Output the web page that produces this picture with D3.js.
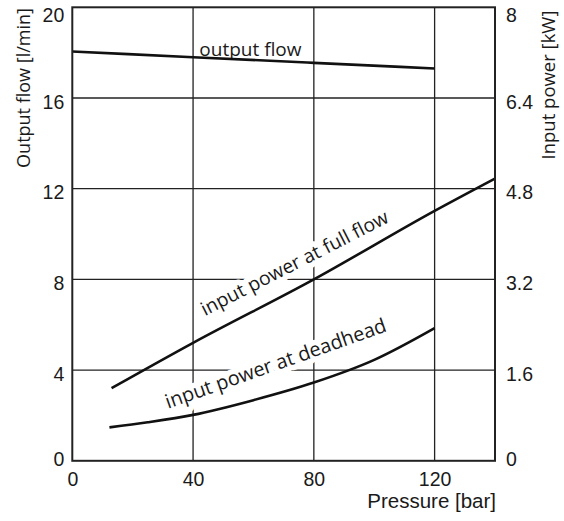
<!DOCTYPE html>
<html>
<head>
<meta charset="utf-8">
<script src="https://cdn.jsdelivr.net/npm/d3@7"></script>
<style>
  body { margin: 0; background: #fff; }
  svg { display: block; }
  .tick text { font-family: 'Liberation Sans', Arial, sans-serif; font-size: 19.5px; fill: #1a1a1a; }
  .note { font-family: 'Open Sans', sans-serif; fill: #1a1a1a; }
</style>
</head>
<body>
<svg id="chart"></svg>
<script>
// pressure [bar] vs flow [l/min] and power [kW]
const xTicks = [0, 40, 80, 120];
const flowTicks = [0, 4, 8, 12, 16, 20];
const powerTicks = [0, 1.6, 3.2, 4.8, 6.4, 8];

const outputFlow = [
  { p: 0, v: 18.05 }, { p: 40, v: 17.8 }, { p: 80, v: 17.55 }, { p: 120, v: 17.3 }
];
const powerFullFlow = [
  { p: 13, v: 1.28 }, { p: 40, v: 2.08 }, { p: 80, v: 3.2 }, { p: 120, v: 4.41 }, { p: 140, v: 4.98 }
];
const powerDeadhead = [
  { p: 12.3, v: 0.59 }, { p: 25, v: 0.68 }, { p: 40, v: 0.81 }, { p: 60, v: 1.07 },
  { p: 80, v: 1.38 }, { p: 100, v: 1.78 }, { p: 120, v: 2.34 }
];

// label anchors in data units (x in bar, y in l/min)
const notes = [
  { text: 'output flow', p: 59, y: 17.84, angle: 0, size: 19 },
  { text: 'input power at full flow', p: 74.6, y: 8.46, angle: -27, size: 19.3 },
  { text: 'input power at deadhead', p: 68.1, y: 4.01, angle: -19.5, size: 19.8 }
];

const width = 564, height = 521;
const margin = { top: 7.3, right: 69, bottom: 60.2, left: 72.3 };

const svg = d3.select('#chart').attr('width', width).attr('height', height);
const g = svg.append('g').attr('transform', 'translate(' + margin.left + ',' + margin.top + ')');
const w = width - margin.left - margin.right,
  h = height - margin.top - margin.bottom;

const x = d3.scaleLinear().domain([0, 140]).range([0, w]);
const yFlow = d3.scaleLinear().domain([0, 20]).range([h, 0]);
const yPower = d3.scaleLinear().domain([0, 8]).range([h, 0]);

// grid
g.selectAll('.vgrid')
  .data(xTicks.filter(d => d > 0))
  .enter()
  .append('line')
  .attr('x1', d => x(d)).attr('x2', d => x(d))
  .attr('y1', 0).attr('y2', h)
  .attr('stroke', '#222').attr('stroke-width', 1.3);

g.selectAll('.hgrid')
  .data(flowTicks.filter(d => d > 0 && d < 20))
  .enter()
  .append('line')
  .attr('x1', 0).attr('x2', w)
  .attr('y1', d => yFlow(d)).attr('y2', d => yFlow(d))
  .attr('stroke', '#222').attr('stroke-width', 1.3);

// curve labels with white knock-out behind them
g.selectAll('.note')
  .data(notes)
  .enter()
  .append('text')
  .classed('note', true)
  .attr('transform', d => 'translate(' + x(d.p) + ',' + yFlow(d.y) + ') rotate(' + d.angle + ')')
  .attr('text-anchor', 'middle')
  .style('font-size', d => d.size + 'px')
  .attr('stroke', '#fff')
  .attr('stroke-width', 11)
  .attr('stroke-linejoin', 'round')
  .attr('paint-order', 'stroke')
  .text(d => d.text);

// curves
const flowLine = d3.line().x(d => x(d.p)).y(d => yFlow(d.v)).curve(d3.curveMonotoneX);
const powerLine = d3.line().x(d => x(d.p)).y(d => yPower(d.v)).curve(d3.curveMonotoneX);

g.append('path').datum(outputFlow).attr('d', flowLine);
g.append('path').datum(powerFullFlow).attr('d', powerLine);
g.append('path').datum(powerDeadhead).attr('d', powerLine);
g.selectAll('path')
  .attr('fill', 'none')
  .attr('stroke', '#111')
  .attr('stroke-width', 2.6);

// frame
g.append('rect')
  .attr('width', w).attr('height', h)
  .attr('fill', 'none').attr('stroke', '#222').attr('stroke-width', 2);

// axes
function tickDy(d, i, n) {
  if (i === 0) return '0.25em';
  if (i === n.length - 1) return '0.73em';
  return '0.52em';
}

g.append('g')
  .attr('transform', 'translate(0,' + h + ')')
  .call(d3.axisBottom(x).tickValues(xTicks).tickSize(0).tickPadding(11))
  .call(a => a.select('.domain').remove());

g.append('g')
  .call(d3.axisLeft(yFlow).tickValues(flowTicks).tickSize(0).tickPadding(8))
  .call(a => a.select('.domain').remove())
  .selectAll('text').attr('dy', tickDy);

g.append('g')
  .attr('transform', 'translate(' + w + ',0)')
  .call(d3.axisRight(yPower).tickValues(powerTicks).tickSize(0).tickPadding(11)
    .tickFormat(d3.format('~g')))
  .call(a => a.select('.domain').remove())
  .selectAll('text').attr('dy', tickDy);

// axis titles
svg.append('text')
  .attr('x', margin.left + w + 1)
  .attr('y', height - 13)
  .attr('text-anchor', 'end')
  .style('font-family', "'Liberation Sans', Arial, sans-serif")
  .style('font-size', '20.5px')
  .attr('fill', '#1a1a1a')
  .text('Pressure [bar]');

svg.append('text')
  .attr('transform', 'translate(30,88) rotate(-90)')
  .attr('text-anchor', 'middle')
  .classed('note', true)
  .style('font-size', '18px')
  .text('Output flow  [l/min]');

svg.append('text')
  .attr('transform', 'translate(555,85) rotate(-90)')
  .attr('text-anchor', 'middle')
  .classed('note', true)
  .style('font-size', '18.5px')
  .text('Input power  [kW]');
</script>
</body>
</html>
